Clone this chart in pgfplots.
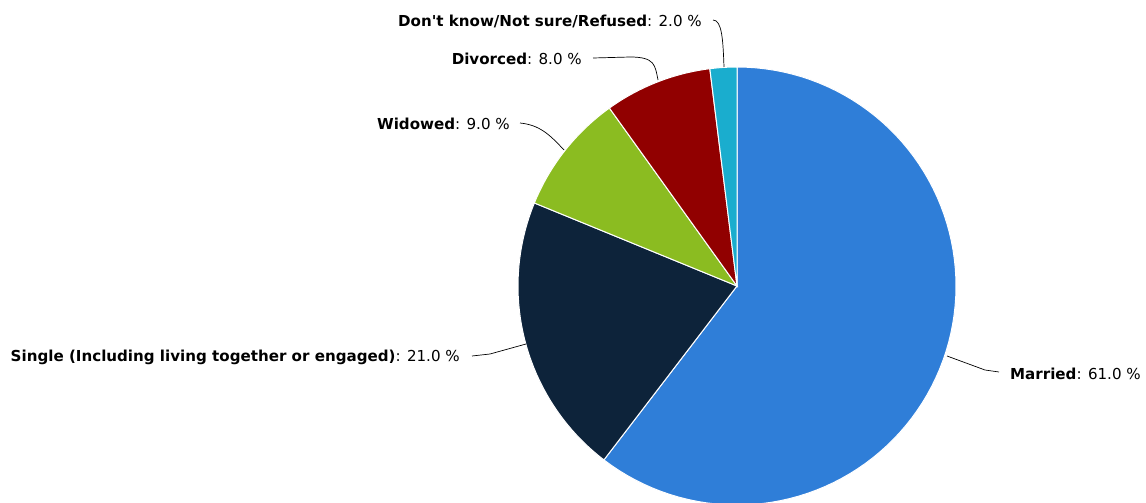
\documentclass[border=0pt]{standalone}
\usepackage{pgfplots}
\pgfplotsset{compat=1.18}
\usepackage{fontspec}
\setmainfont{DejaVu Sans}
\definecolor{cMar}{HTML}{2F7ED8}
\definecolor{cSin}{HTML}{0D233A}
\definecolor{cWid}{HTML}{8BBC21}
\definecolor{cDiv}{HTML}{910000}
\definecolor{cDK}{HTML}{1AADCE}
\newcommand{\lbl}[2]{\fontsize{15.1}{18}\selectfont\textbf{#1}: #2}
\begin{document}
\begin{tikzpicture}
\begin{axis}[
  width=1146pt, height=503pt, scale only axis,
  xmin=0, xmax=1146, ymin=0, ymax=503, y dir=reverse,
  hide axis, clip mode=individual,
]
% slices: cumulative start/end percentages (total 101)
\addplot[fill=cMar, draw=white, line width=1pt, domain={90-360*61/101}:{90-360*0/101}, samples=90, variable=\t]
  ({737+219*cos(t)},{286-219*sin(t)}) -- (axis cs:737,286) -- cycle;
\addplot[fill=cSin, draw=white, line width=1pt, domain={90-360*82/101}:{90-360*61/101}, samples=40, variable=\t]
  ({737+219*cos(t)},{286-219*sin(t)}) -- (axis cs:737,286) -- cycle;
\addplot[fill=cWid, draw=white, line width=1pt, domain={90-360*91/101}:{90-360*82/101}, samples=20, variable=\t]
  ({737+219*cos(t)},{286-219*sin(t)}) -- (axis cs:737,286) -- cycle;
\addplot[fill=cDiv, draw=white, line width=1pt, domain={90-360*99/101}:{90-360*91/101}, samples=20, variable=\t]
  ({737+219*cos(t)},{286-219*sin(t)}) -- (axis cs:737,286) -- cycle;
\addplot[fill=cDK, draw=white, line width=1pt, domain={90-360*101/101}:{90-360*99/101}, samples=10, variable=\t]
  ({737+219*cos(t)},{286-219*sin(t)}) -- (axis cs:737,286) -- cycle;
% connectors
\draw[black, line width=0.7pt] (axis cs:713,20) .. controls (axis cs:722,20) and (axis cs:723,40) .. (axis cs:724,67);
\draw[black, line width=0.7pt] (axis cs:593,58) -- (axis cs:630,57) .. controls (axis cs:655,57) and (axis cs:655,65) .. (axis cs:658,80);
\draw[black, line width=0.7pt] (axis cs:520,123) .. controls (axis cs:540,125) and (axis cs:550,135) .. (axis cs:564,150);
\draw[black, line width=0.7pt] (axis cs:472,356) -- (axis cs:490,354) -- (axis cs:526,344);
\draw[black, line width=0.7pt] (axis cs:947,356) -- (axis cs:985,370) -- (axis cs:999,372);
% labels
\node[anchor=east, inner sep=0pt] at (axis cs:702,21) {\lbl{Don\textquotesingle t know/Not sure/Refused}{2.0 \%}};
\node[anchor=east, inner sep=0pt] at (axis cs:582,59) {\lbl{Divorced}{8.0 \%}};
\node[anchor=east, inner sep=0pt] at (axis cs:510,124) {\lbl{Widowed}{9.0 \%}};
\node[anchor=east, inner sep=0pt] at (axis cs:460,357) {\lbl{Single (Including living together or engaged)}{21.0 \%}};
\node[anchor=west, inner sep=0pt] at (axis cs:1010,374) {\lbl{Married}{61.0 \%}};
\end{axis}
\pgfresetboundingbox
\path[use as bounding box] (current axis.south west) rectangle (current axis.north east);
\end{tikzpicture}
\end{document}
